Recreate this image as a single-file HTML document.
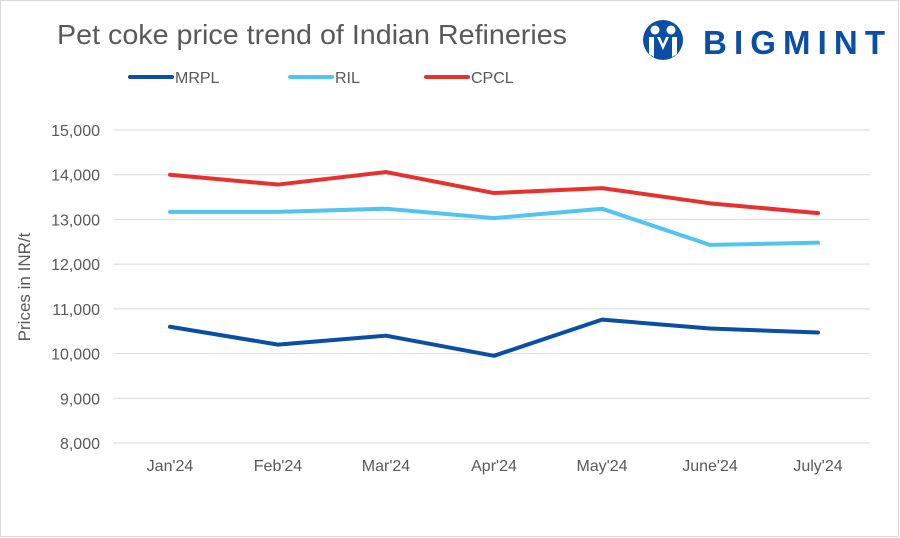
<!DOCTYPE html>
<html><head><meta charset="utf-8"><style>
body{margin:0;background:#fff;}
svg{display:block;font-family:"Liberation Sans",sans-serif;}
</style></head><body>
<svg id="chart" width="900" height="538" viewBox="0 0 900 538">
<rect x="0.5" y="0.5" width="898" height="536" fill="#fff" stroke="#d9d9d9"/>
<text x="57" y="44" font-size="28" fill="#595959" textLength="510" lengthAdjust="spacingAndGlyphs">Pet coke price trend of Indian Refineries</text>
<g>
<circle cx="663" cy="40" r="20" fill="#0a4ea5"/>
<circle cx="655" cy="30" r="4.5" fill="#fff"/>
<circle cx="671" cy="30" r="4.5" fill="#fff"/>
<path d="M649 37 L654 37 L654 57 L649 54 Z M677 37 L672 37 L672 57 L677 54 Z M657 37 L663 50 L669 37 L666 37 L663 44 L660 37 Z" fill="#fff"/>
<text x="703" y="54" font-size="33" font-weight="bold" fill="#0a4ea5" textLength="182" lengthAdjust="spacing">BIGMINT</text>
</g>
<g id="legend"></g>
<g id="grid"></g>
<g id="lines"></g>
<text transform="translate(30,287) rotate(-90)" text-anchor="middle" font-size="17" fill="#595959">Prices in INR/t</text>
</svg>
<script>
const categories=["Jan'24","Feb'24","Mar'24","Apr'24","May'24","June'24","July'24"];
const mrpl=[10600,10200,10400,9950,10760,10560,10470];
const ril=[13170,13170,13240,13030,13240,12430,12480];
const cpcl=[14000,13780,14060,13590,13700,13360,13140];
const yTicks=[8000,9000,10000,11000,12000,13000,14000,15000];
const seriesNames=["MRPL","RIL","CPCL"];
const seriesColors=["#0a4ea5","#55c3f0","#e8312f"];
const NS="http://www.w3.org/2000/svg";
const y=v=>443-(v-8000)*(313/7000);
const x=i=>170+i*108;
function mk(t,a,p){const e=document.createElementNS(NS,t);for(const k in a)e.setAttribute(k,a[k]);p.appendChild(e);return e;}
const grid=document.getElementById('grid');
yTicks.forEach(v=>{
 const l=mk('line',{x1:113,x2:870,y1:y(v),y2:y(v),stroke:'#d9d9d9','stroke-width':1},grid);
 
 
 const t=mk('text',{x:100,y:y(v)+6,'text-anchor':'end','font-size':16,fill:'#595959'},grid);
 t.textContent=v.toLocaleString('en-US');
 
 
});
categories.forEach((c,i)=>{
 const t=mk('text',{x:x(i),y:471,'text-anchor':'middle','font-size':16,fill:'#595959'},grid);
 t.textContent=c;
 
 
});
const lines=document.getElementById('lines');
[mrpl,ril,cpcl].forEach((s,k)=>{
 const p=mk('polyline',{points:s.map((v,i)=>x(i)+','+y(v)).join(' '),fill:'none',stroke:seriesColors[k],'stroke-width':4,'stroke-linejoin':'round','stroke-linecap':'round'},lines);
 
 
});
const lg=document.getElementById('legend');
const lx=[130,290,426];
seriesNames.forEach((n,k)=>{
 const g=mk('g',{},lg);
 
 
 mk('line',{x1:lx[k],x2:lx[k]+42,y1:77,y2:77,stroke:seriesColors[k],'stroke-width':4,'stroke-linecap':'round'},g);
 const t=mk('text',{x:lx[k]+45,y:83,'font-size':16,fill:'#595959'},g);
 t.textContent=n;
});
</script>
</body></html>
